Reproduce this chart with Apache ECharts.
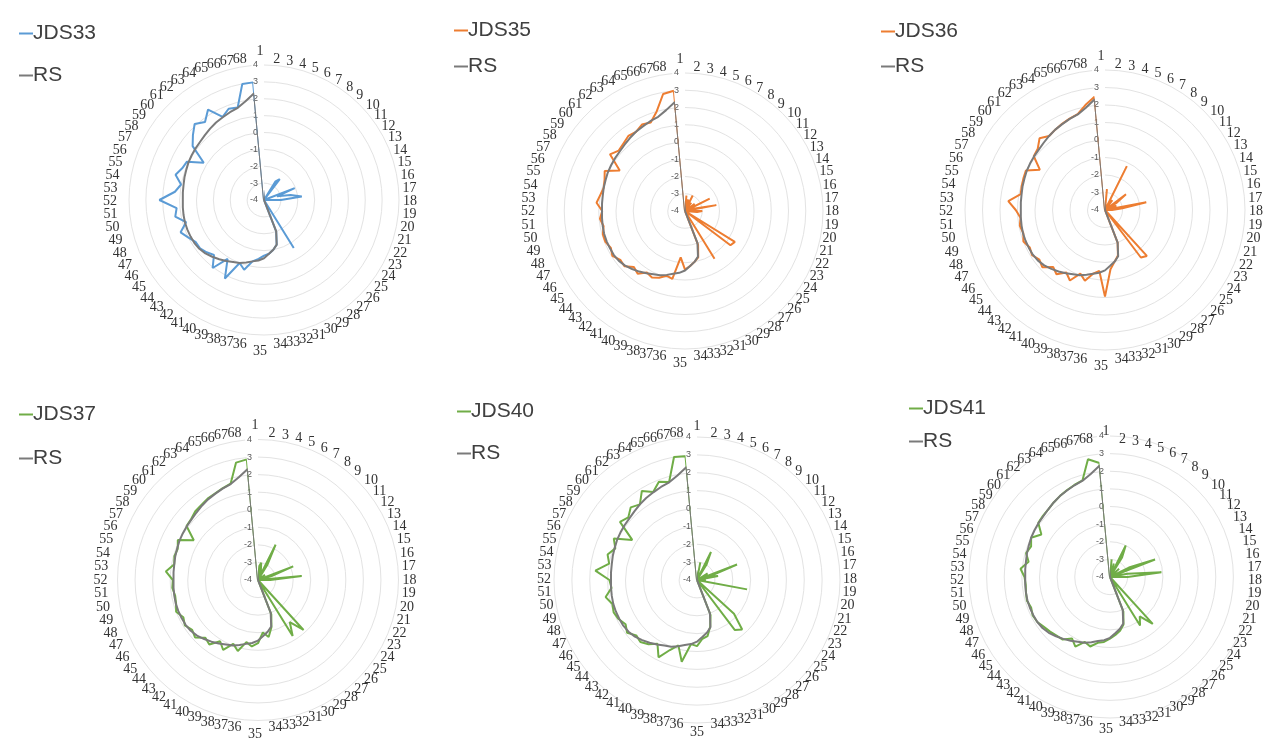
<!DOCTYPE html>
<html>
<head>
<meta charset="utf-8">
<script src="https://cdn.jsdelivr.net/npm/echarts@6/dist/echarts.min.js"></script>
<style>
html,body{margin:0;padding:0;background:#fff;}
#main{width:1266px;height:738px;}
</style>
</head>
<body>
<div id="main"></div>
<script>
// Categories 1..68
const categories = ["1","2","3","4","5","6","7","8","9","10","11","12","13","14","15","16","17","18","19","20","21","22","23","24","25","26","27","28","29","30","31","32","33","34","35","36","37","38","39","40","41","42","43","44","45","46","47","48","49","50","51","52","53","54","55","56","57","58","59","60","61","62","63","64","65","66","67","68"];
const radialTicks = [-4,-3,-2,-1,0,1,2,3,4];

const RS = [-4,-4,-4,-4,-4,-4,-4,-4,-4,-4,-4,-4,-4,-4,-4,-4,-4,-4,-4,-4,-4,-4,-4,-4,-4,-4,-4,-4,-4,-4,
  -2.0,-1.25,-1.0,-0.8,-0.55,-0.4,-0.3,-0.15,0.0,0.1,0.25,0.4,0.55,0.7,0.8,0.85,0.86,0.87,0.87,0.85,
  0.83,0.81,0.83,0.85,0.9,0.94,1.0,1.04,1.08,1.12,1.2,1.3,1.4,1.48,1.58,1.68,1.95,2.35];

const JDS33 = [-4,-4,-4,-4,-4,-4,-2.7,-2.45,-4,-4,-4,-4,-4,-2.05,-3.2,-2.4,-1.75,-3.0,-4,-4,-4,-4,-4,-4,-4,-4,-4,-4,-0.65,-4,
  -2.0,-1.25,-1.0,-0.8,-0.7,-0.5,-0.3,0.3,0.0,1.2,0.1,1.05,0.4,0.6,0.75,0.75,1.0,1.3,0.8,1.35,
  1.2,2.2,1.3,1.0,1.45,1.2,1.1,0.2,1.3,1.7,2.1,1.8,2.3,1.5,1.8,1.7,3.0,3.0];

const JDS35 = [-4,-3.1,-4,-3.3,-4,-3.0,-4,-3.4,-4,-4,-3.3,-4,-2.4,-4,-3.5,-2.15,-4,-3.0,-3.3,-4,-4,-4,-4,-0.6,-0.7,-4,-4,-4,-0.75,-4,
  -1.9,-1.2,-1.0,-0.8,-0.6,-1.3,0.0,-0.1,0.15,0.3,0.2,0.55,0.4,0.75,0.7,0.95,0.8,0.95,0.95,0.8,
  0.95,0.8,1.15,1.0,0.9,1.0,1.2,0.45,1.45,1.2,1.3,1.45,1.4,1.6,1.5,2.0,2.9,3.0];

const JDS36 = [-4,-2.8,-4,-4,-4,-1.2,-4,-3.3,-4,-4,-2.5,-3.2,-4,-3.3,-4,-1.6,-3.0,-3.6,-4,-4,-4,-4,-4,-4,-4,-4,-0.45,-0.6,-4,-4,
  -2.0,-1.3,-1.0,-0.6,0.95,-0.5,-0.3,0.2,-0.1,0.5,0.2,0.6,0.4,0.85,0.7,0.9,0.8,1.0,0.85,0.95,
  0.85,1.1,1.55,0.9,0.95,1.0,1.05,0.38,1.1,1.2,1.55,1.3,1.4,1.5,1.6,1.7,2.1,2.5];

const JDS37 = [-4,-3.2,-3.0,-3.4,-4,-1.75,-3.0,-4,-4,-4,-3.5,-4,-4,-1.85,-3.2,-4,-1.5,-3.3,-4,-4,-4,-4,-4,-4,-4,-4,-0.15,-1.0,-0.25,-4,
  -1.9,-1.2,-0.7,-1.0,-0.4,-0.2,-0.4,0.2,-0.1,0.45,0.1,0.6,0.45,0.85,0.7,0.9,0.75,1.0,0.85,0.8,
  0.9,0.85,1.27,0.85,0.95,0.9,1.1,0.3,1.1,1.15,1.3,1.35,1.45,1.5,1.6,1.7,2.8,2.9];

const JDS40 = [-4,-4,-3.0,-4,-4,-2.25,-3.0,-4,-4,-4,-4,-3.3,-4,-1.6,-3.3,-2.8,-4,-3.5,-4,-1.15,-4,-4,-4,-4,-4,-1.2,-0.25,-0.5,-4,-4,
  -1.9,-1.3,-0.8,-0.7,-0.3,-0.4,0.65,-0.2,0.2,0.83,0.2,0.5,0.7,0.6,0.9,0.7,0.9,1.0,0.92,1.2,
  0.8,0.9,1.71,1.0,1.2,0.9,1.2,0.26,1.4,1.2,1.5,1.3,1.86,1.5,1.9,1.7,3.0,2.95];

const JDS41 = [-4,-3.0,-4,-3.2,-4,-2.0,-2.7,-4,-4,-3.3,-4,-4,-2.8,-1.26,-4,-3.0,-1.07,-3.0,-4,-4,-4,-4,-4,-4,-4,-4,-0.4,-1.2,-0.76,-4,
  -1.9,-1.2,-0.9,-0.7,-0.5,-0.3,-0.2,0.1,-0.05,0.41,0.1,0.45,0.5,0.6,0.7,0.85,0.9,0.8,0.9,0.85,
  0.8,0.85,1.1,0.7,0.95,0.8,1.0,0.58,1.1,1.15,1.2,1.3,1.4,1.5,1.6,1.7,2.8,2.5];

const panels = [
  {name:'JDS33', values:JDS33, color:'#5B9BD5', center:[264,200], R:135, legend:[14,18], gap:21, lshift:[-4,1.5], ngap:8},
  {name:'JDS35', values:JDS35, color:'#ED7D31', center:[685,211], R:138, legend:[449,15], gap:15, lshift:[-5,0.5], ngap:7},
  {name:'JDS36', values:JDS36, color:'#ED7D31', center:[1105,210], R:140, legend:[876,16], gap:14, lshift:[-4,1.5], ngap:8},
  {name:'JDS37', values:JDS37, color:'#70AD47', center:[258,580], R:140.5, legend:[14,399], gap:23, lshift:[-3,0], ngap:7},
  {name:'JDS40', values:JDS40, color:'#70AD47', center:[697,580], R:143, legend:[452,396], gap:21, lshift:[0,-1], ngap:3},
  {name:'JDS41', values:JDS41, color:'#70AD47', center:[1110,577], R:141, legend:[904,393], gap:12, lshift:[-4,3.5], ngap:1}
];
const RS_COLOR = '#7a7a7a';

function closed(vals){
  const d = vals.map((v,k)=>[v,k]);
  d.push([vals[0],0]);
  return d;
}

// radar indicators run anticlockwise in ECharts: order them 1, 68, 67 ... 2 so the ring reads clockwise
const ringOrder = [categories[0]].concat(categories.slice(1).reverse());

const polar = [], angleAxis = [], radiusAxis = [], radar = [];
panels.forEach((p,i)=>{
  polar.push({center:p.center, radius:p.R});
  angleAxis.push({
    polarIndex:i, type:'category', data:categories, boundaryGap:false,
    startAngle:90, clockwise:true,
    axisLine:{show:false}, axisTick:{show:false}, splitLine:{show:false}, axisLabel:{show:false}
  });
  radiusAxis.push({
    polarIndex:i, type:'value', min:radialTicks[0], max:radialTicks[radialTicks.length-1], interval:1,
    axisLine:{show:false}, axisTick:{show:false},
    splitLine:{show:true, lineStyle:{color:'#e3e3e3', width:1}},
    axisLabel:{fontSize:9, color:'#595959', fontFamily:'Liberation Sans', margin:6}
  });
  // category label ring (Excel-style alignment), no series attached
  radar.push({
    center:[p.center[0]+p.lshift[0], p.center[1]+p.lshift[1]], radius:p.R, startAngle:90,
    shape:'circle', nameGap:p.ngap, splitNumber:8,
    indicator: ringOrder.map(n=>({name:n, min:radialTicks[0], max:radialTicks[radialTicks.length-1]})),
    axisName:{color:'#333', fontFamily:'Liberation Serif', fontSize:14},
    axisLine:{show:false}, axisTick:{show:false}, axisLabel:{show:false},
    splitLine:{show:false}, splitArea:{show:false}, silent:true
  });
});

const option = {
  backgroundColor:'#ffffff',
  animation:false,
  polar, angleAxis, radiusAxis, radar,
  legend: panels.map(p=>({
    data:[p.name,'RS'], orient:'vertical', left:p.legend[0], top:p.legend[1],
    itemWidth:14, itemHeight:2, icon:'rect', itemGap:p.gap,
    textStyle:{fontFamily:'Liberation Sans', fontSize:21, color:'#404040', padding:[0,0,0,-5]}
  })),
  series: []
};
panels.forEach((p,i)=>{
  option.series.push({
    name:p.name, type:'line', coordinateSystem:'polar', polarIndex:i,
    data:closed(p.values), showSymbol:false, symbol:'none',
    lineStyle:{color:p.color, width:2}, itemStyle:{color:p.color}, z:2
  });
});
panels.forEach((p,i)=>{
  option.series.push({
    name:'RS', type:'line', coordinateSystem:'polar', polarIndex:i,
    data:closed(RS), showSymbol:false, symbol:'none',
    lineStyle:{color:RS_COLOR, width:2}, itemStyle:{color:RS_COLOR}, z:3
  });
});

const chart = echarts.init(document.getElementById('main'), null, {renderer:'canvas'});
chart.setOption(option);
</script>
</body>
</html>
